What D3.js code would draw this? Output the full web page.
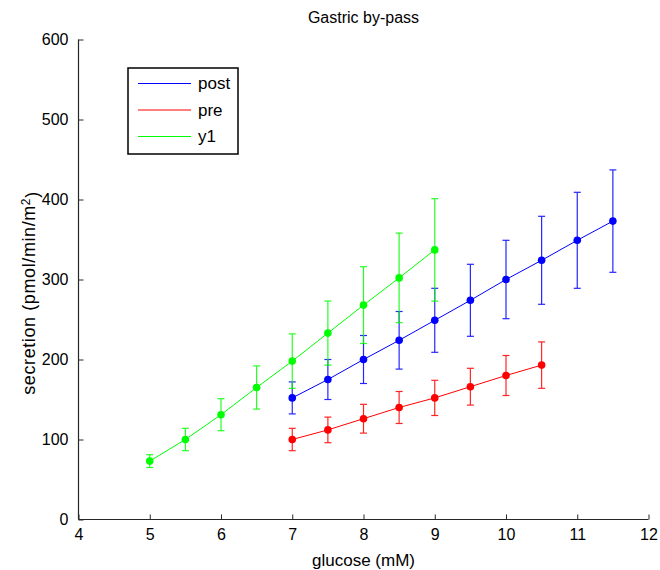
<!DOCTYPE html>
<html>
<head>
<meta charset="utf-8">
<script src="https://cdn.jsdelivr.net/npm/d3@7"></script>
<style>
  html, body { margin: 0; padding: 0; background: #fff; }
  svg { display: block; font-family: "Liberation Sans", Arial, Helvetica, sans-serif; }
</style>
</head>
<body>
<svg id="chart" width="660" height="570"></svg>
<script>
// ---- data ----
const postX   = [7, 7.5, 8, 8.5, 9, 9.5, 10, 10.5, 11, 11.5];
const postY   = [152, 175, 200, 224, 249, 274, 300, 324, 349, 373];
const postErr = [20, 25, 30, 36, 40, 45, 49, 55, 60, 64];

const preX    = [7, 7.5, 8, 8.5, 9, 9.5, 10, 10.5];
const preY    = [100, 112, 126, 140, 152, 166, 180, 193];
const preErr  = [14, 16, 18, 20, 22, 23, 25, 29];

const y1X     = [5, 5.5, 6, 6.5, 7, 7.5, 8, 8.5, 9];
const y1Y     = [73, 100, 131, 165, 198, 233, 268, 302, 337];
const y1Err   = [8, 14, 20, 27, 34, 40, 48, 56, 64];

const seriesNames  = ["post", "pre", "y1"];
const seriesColors = ["#0000ff", "#ff0000", "#00ff00"];
const xTicks = [4, 5, 6, 7, 8, 9, 10, 11, 12];
const yTicks = [0, 100, 200, 300, 400, 500, 600];
const titleText = "Gastric by-pass";
const xLabelText = "glucose (mM)";

// ---- layout ----
const svg = d3.select("#chart");
const L = 78.5, R = 648.5, T = 39.5, B = 519.5;
const x = d3.scaleLinear().domain([4, 12]).range([L, R]);
const y = d3.scaleLinear().domain([0, 600]).range([B, T]);

// axes (inward ticks, no box)
const xAxis = d3.axisBottom(x).tickValues(xTicks).tickSize(-5).tickPadding(10).tickFormat(d3.format("d"));
const yAxis = d3.axisLeft(y).tickValues(yTicks).tickSize(-5).tickPadding(10).tickFormat(d3.format("d"));

const gx = svg.append("g").attr("transform", `translate(0,${B})`).call(xAxis);
const gy = svg.append("g").attr("transform", `translate(${L},0)`).call(yAxis);
[gx, gy].forEach(g => {
  g.select(".domain").attr("stroke", "#262626").attr("stroke-width", 1.2);
  g.selectAll(".tick line").attr("stroke", "#262626");
  g.selectAll(".tick text").attr("fill", "#000").style("font-size", "16px")
   .style("font-family", "'Liberation Sans', Arial, sans-serif");
});
gx.select(".domain").attr("d", `M${L},0H${R}`);
gy.select(".domain").attr("d", `M0,${B}V${T}`);
gx.selectAll(".tick text").attr("dy", "0.71em").attr("y", 9);

// title
svg.append("text").attr("x", (L + R) / 2).attr("y", 23).attr("text-anchor", "middle")
  .style("font-size", "16px").text(titleText);

// x label
svg.append("text").attr("x", (L + R) / 2).attr("y", 566).attr("text-anchor", "middle")
  .style("font-size", "17px").text(xLabelText);

// y label
const yl = svg.append("text").attr("transform", `translate(35,293) rotate(-90)`)
  .attr("text-anchor", "middle").style("font-size", "18px").style("letter-spacing", "0.6px");
yl.append("tspan").text("secretion (pmol/min/m");
yl.append("tspan").attr("dy", "-0.45em").style("font-size", "12px").text("2");
yl.append("tspan").attr("dy", "0.45em").text(")");

// series
const series = [
  { xs: postX, ys: postY, es: postErr },
  { xs: preX,  ys: preY,  es: preErr },
  { xs: y1X,   ys: y1Y,   es: y1Err }
];
const line = d3.line().x(d => x(d.x)).y(d => y(d.y));
const cap = 3.5;

series.forEach((s, i) => {
  const col = seriesColors[i];
  const pts = s.xs.map((xv, j) => ({ x: xv, y: s.ys[j], e: s.es[j] }));
  const g = svg.append("g");
  // error bars
  const eb = g.append("g").attr("stroke", col).attr("stroke-width", 1.2).attr("opacity", 0.85);
  pts.forEach(p => {
    const cx = x(p.x), y0 = y(p.y - p.e), y1v = y(p.y + p.e);
    eb.append("line").attr("x1", cx).attr("x2", cx).attr("y1", y0).attr("y2", y1v);
    eb.append("line").attr("x1", cx - cap).attr("x2", cx + cap).attr("y1", y0).attr("y2", y0);
    eb.append("line").attr("x1", cx - cap).attr("x2", cx + cap).attr("y1", y1v).attr("y2", y1v);
  });
  g.append("path").datum(pts).attr("d", line).attr("fill", "none").attr("stroke", col).attr("stroke-width", 1);
  g.selectAll("circle").data(pts).join("circle")
    .attr("cx", d => x(d.x)).attr("cy", d => y(d.y)).attr("r", 3.8).attr("fill", col);
});

// legend
const lg = svg.append("g");
lg.append("rect").attr("x", 128).attr("y", 68).attr("width", 110).attr("height", 86)
  .attr("fill", "#fff").attr("stroke", "#000").attr("stroke-width", 1.5);
seriesNames.forEach((n, i) => {
  const yy = 83.5 + i * 26.5;
  lg.append("line").attr("x1", 138).attr("x2", 191).attr("y1", yy).attr("y2", yy)
    .attr("stroke", seriesColors[i]).attr("stroke-width", 1.2);
  lg.append("text").attr("x", 198).attr("y", yy).attr("dy", "0.35em")
    .style("font-size", "17px").text(n);
});
</script>
</body>
</html>
